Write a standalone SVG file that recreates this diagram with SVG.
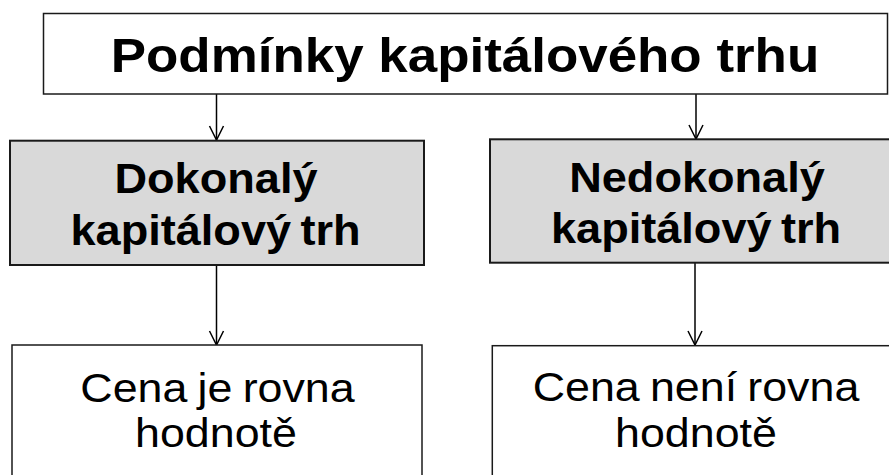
<svg xmlns="http://www.w3.org/2000/svg" width="889" height="475" viewBox="0 0 889 475">
  <style>
    .box { stroke: #1a1a1a; stroke-width: 1.5; }
    .plain { fill: #ffffff; }
    .grey { fill: #d9d9d9; stroke-width: 2; }
    .title { font-family: "Liberation Sans", Arial, sans-serif; font-weight: bold; font-size: 49px; fill: #000; text-anchor: middle; }
    .mid { font-family: "Liberation Sans", Arial, sans-serif; font-weight: bold; font-size: 42px; fill: #000; text-anchor: middle; word-spacing: -3px; }
    .low { font-family: "Liberation Sans", Arial, sans-serif; font-size: 40px; fill: #000; text-anchor: middle; word-spacing: -2px; }
    .conn { stroke: #000; stroke-width: 1.5; fill: none; marker-end: url(#arr); }
  </style>
  <defs>
    <marker id="arr" markerUnits="userSpaceOnUse" markerWidth="30" markerHeight="30" refX="0" refY="0" orient="auto" viewBox="-20 -15 30 30" overflow="visible">
      <path d="M-14,-7 L0,0 L-14,7" fill="none" stroke="#000" stroke-width="1.5"/>
    </marker>
  </defs>
  <rect width="889" height="475" fill="#ffffff"/>

  <g id="connectors">
    <line class="conn" x1="216.5" y1="94" x2="216.5" y2="140"/>
    <line class="conn" x1="696" y1="94" x2="696" y2="139"/>
    <line class="conn" x1="216.5" y1="265" x2="216.5" y2="345"/>
    <line class="conn" x1="695" y1="263" x2="695" y2="345"/>
  </g>

  <g id="top">
    <rect class="box plain" x="43.5" y="13.5" width="844" height="80.5"/>
    <text class="title" transform="translate(465,72) scale(1.08,1)" x="0" y="0">Podmínky kapitálového trhu</text>
  </g>

  <g id="perfect">
    <rect class="box grey" x="10" y="140.7" width="414" height="124.3"/>
    <text class="mid" transform="translate(216,193.3) scale(1.074,1)" x="0" y="0">Dokonalý</text>
    <text class="mid" transform="translate(215.5,245) scale(1.074,1)" x="0" y="0">kapitálový trh</text>
  </g>

  <g id="imperfect">
    <rect class="box grey" x="490" y="139.3" width="414" height="123.4"/>
    <text class="mid" transform="translate(697,191.7) scale(1.074,1)" x="0" y="0">Nedokonalý</text>
    <text class="mid" transform="translate(696,243.3) scale(1.074,1)" x="0" y="0">kapitálový trh</text>
  </g>

  <g id="equal">
    <rect class="box plain" x="12" y="345" width="410" height="140"/>
    <text class="low" transform="translate(217.5,401.7) scale(1.12,1)" x="0" y="0">Cena je rovna</text>
    <text class="low" transform="translate(216,446.7) scale(1.12,1)" x="0" y="0">hodnotě</text>
  </g>

  <g id="notequal">
    <rect class="box plain" x="492.3" y="345.7" width="410" height="140"/>
    <text class="low" transform="translate(696,401.3) scale(1.12,1)" x="0" y="0">Cena není rovna</text>
    <text class="low" transform="translate(696,446.7) scale(1.12,1)" x="0" y="0">hodnotě</text>
  </g>
</svg>
